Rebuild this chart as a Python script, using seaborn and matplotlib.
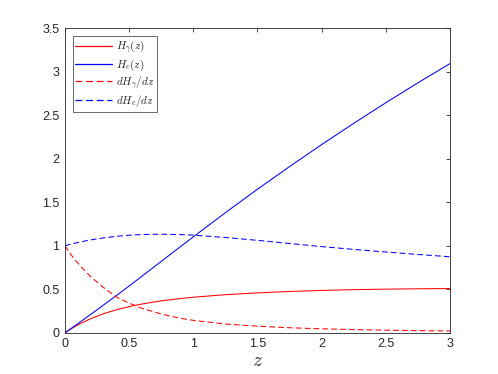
import pandas as pd
import matplotlib
matplotlib.use("Agg")
import matplotlib.pyplot as plt
from matplotlib.lines import Line2D
import seaborn as sns

# Values
z = [0, 0.05, 0.1, 0.15, 0.2, 0.3, 0.4, 0.5, 0.6, 0.75, 0.9, 1.0,
     1.25, 1.5, 1.75, 2.0, 2.25, 2.5, 2.75, 3.0]
h_gamma = [0, 0.047, 0.089, 0.127, 0.161, 0.218, 0.264, 0.300, 0.330, 0.366,
           0.393, 0.408, 0.437, 0.458, 0.474, 0.486, 0.495, 0.501, 0.505, 0.508]
h_e = [0, 0.051, 0.104, 0.157, 0.210, 0.318, 0.427, 0.537, 0.650, 0.820,
       0.990, 1.102, 1.380, 1.650, 1.910, 2.163, 2.407, 2.644, 2.873, 3.094]
dh_gamma = [1.0, 0.89, 0.80, 0.72, 0.645, 0.52, 0.41, 0.34, 0.28, 0.215,
            0.165, 0.142, 0.10, 0.075, 0.057, 0.045, 0.036, 0.029, 0.024, 0.020]
dh_e = [1.0, 1.02, 1.037, 1.053, 1.067, 1.09, 1.108, 1.121, 1.129, 1.133,
        1.128, 1.122, 1.095, 1.062, 1.026, 0.99, 0.958, 0.928, 0.90, 0.873]

labels = [r"$H_\gamma(z)$", r"$H_e(z)$", r"$dH_\gamma/dz$", r"$dH_e/dz$"]
colors = ["#ff0000", "#0000ff", "#ff0000", "#0000ff"]
dash = (0, (5.5, 3))
styles = ["-", "-", dash, dash]

df = pd.DataFrame({"z": z, labels[0]: h_gamma, labels[1]: h_e,
                   labels[2]: dh_gamma, labels[3]: dh_e})

sns.set_style("white")
plt.rcParams["font.family"] = ["Liberation Sans", "DejaVu Sans"]
plt.rcParams["mathtext.fontset"] = "cm"

fig = plt.figure(figsize=(4.98, 3.74), dpi=100)
ax = fig.add_axes([0.1305, 0.1104, 0.773, 0.8139])

for lab, col, ls in zip(labels, colors, styles):
    sns.lineplot(data=df, x="z", y=lab, ax=ax, color=col, linestyle=ls,
                 linewidth=0.75, legend=False)

ax.set_xlim(0, 3)
ax.set_ylim(0, 3.5)
ax.set_xticks([0, 0.5, 1, 1.5, 2, 2.5, 3])
ax.set_xticklabels(["0", "0.5", "1", "1.5", "2", "2.5", "3"])
ax.set_yticks([0, 0.5, 1, 1.5, 2, 2.5, 3, 3.5])
ax.set_yticklabels(["0", "0.5", "1", "1.5", "2", "2.5", "3", "3.5"])
ax.set_xlabel(r"$z$", fontsize=14, labelpad=2)
ax.set_ylabel("")

for sp in ax.spines.values():
    sp.set_visible(True)
    sp.set_color("#262626")
    sp.set_linewidth(0.6)
ax.tick_params(direction="in", top=True, right=True, length=3, width=0.6,
               colors="#262626", labelsize=9, pad=4)

# explicit legend handles so each one keeps its colour and dash
handles = [Line2D([], [], color=c, linestyle=s, linewidth=0.9)
           for c, s in zip(colors, styles)]
leg = ax.legend(handles, labels, loc="upper left",
                bbox_to_anchor=(0.02, 0.975), fontsize=8,
                frameon=True, fancybox=False, handlelength=3.3,
                borderpad=0.25, labelspacing=0.12, handletextpad=0.35,
                borderaxespad=0.0)
leg.get_frame().set_edgecolor("#262626")
leg.get_frame().set_linewidth(0.6)

fig.savefig("out.png", dpi=100)
